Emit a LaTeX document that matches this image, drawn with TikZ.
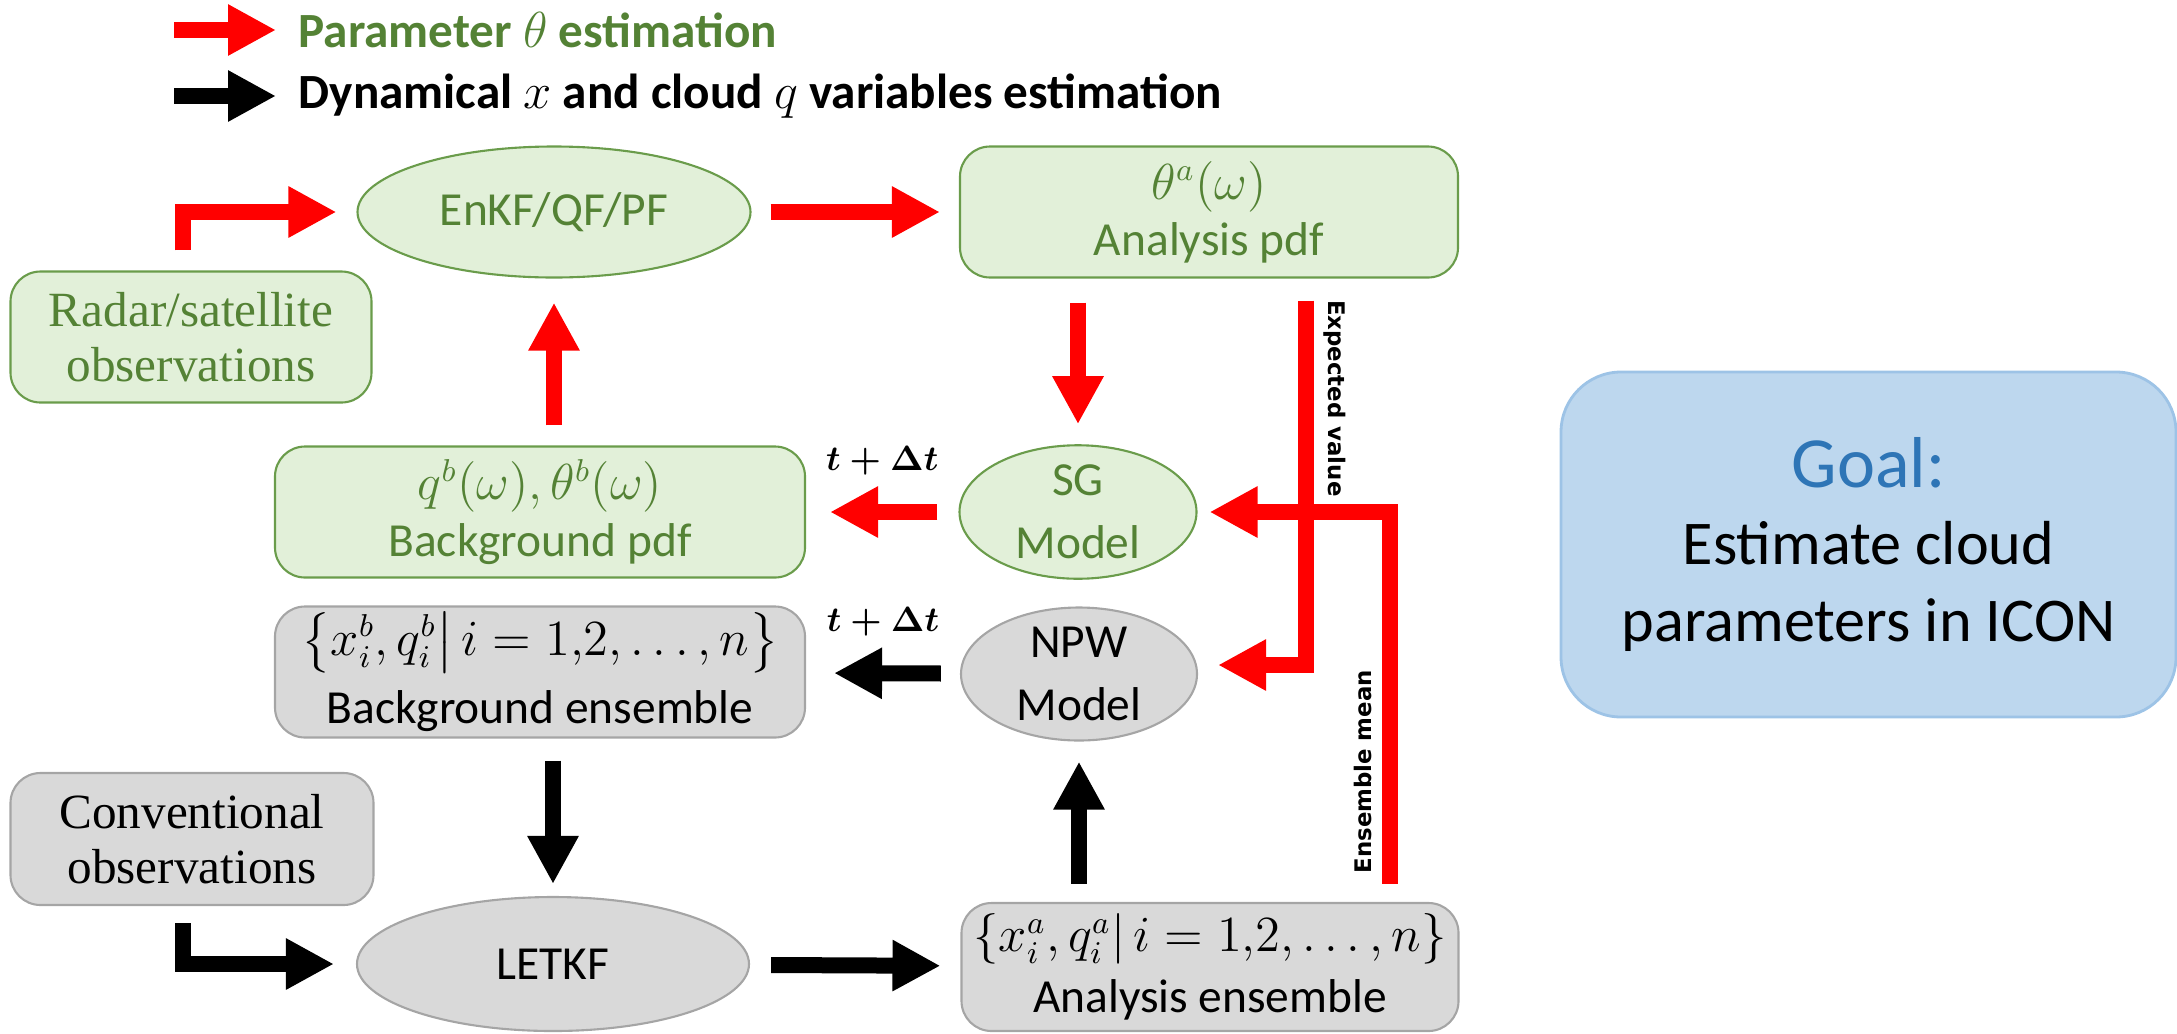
\documentclass[tikz,border=0pt]{standalone}
\usepackage{amsmath}
\usepackage{fontspec}
\setmainfont{Carlito}
\newfontfamily\obsfont{Liberation Serif}
\newfontfamily\tagfont{DejaVu Sans}
\usepackage{xcolor}
\usetikzlibrary{shapes.geometric, arrows.meta, positioning}
\definecolor{pdffill}{HTML}{E2F0D9}
\definecolor{pdfdraw}{HTML}{6A9C4B}
\definecolor{pdftext}{HTML}{548235}
\definecolor{ensfill}{HTML}{D9D9D9}
\definecolor{ensdraw}{HTML}{A5A5A5}
\definecolor{goalfill}{HTML}{BDD7EE}
\definecolor{goaldraw}{HTML}{9DC3E6}
\definecolor{goaltext}{HTML}{2E75B6}

\begin{document}
\begin{tikzpicture}[
    pdfbox/.style={rectangle, rounded corners=0.3cm, draw=pdfdraw, fill=pdffill, text=pdftext, line width=0.6pt, inner sep=0pt, align=center, font=\fontsize{13.5}{16}\selectfont},
    pdfell/.style={ellipse, draw=pdfdraw, fill=pdffill, text=pdftext, line width=0.6pt, inner sep=0pt, align=center, font=\fontsize{13.5}{18}\selectfont},
    ensbox/.style={rectangle, rounded corners=0.3cm, draw=ensdraw, fill=ensfill, text=black, line width=0.6pt, inner sep=0pt, align=center, font=\fontsize{13.5}{17.5}\selectfont},
    ensell/.style={ellipse, draw=ensdraw, fill=ensfill, text=black, line width=0.6pt, inner sep=0pt, align=center, font=\fontsize{13.5}{18}\selectfont},
    obstext/.style={font=\obsfont\fontsize{14}{15.6}\selectfont},
    redarr/.style={draw=red, line width=0.16cm, -{Triangle[length=0.48cm, width=0.48cm]}},
    blkarr/.style={draw=black, line width=0.16cm, -{Triangle[length=0.48cm, width=0.48cm]}},
    legtext/.style={font=\bfseries\fontsize{14}{16}\selectfont, inner sep=0pt},
    tstep/.style={font=\fontsize{10}{12}\selectfont\boldmath, text=black},
    tagtext/.style={font=\tagfont\bfseries\fontsize{6.5}{8}\selectfont, text=black, inner sep=0.1cm}
]
    \useasboundingbox (0,0) rectangle (21.77,-10.33);

    \coordinate (lred) at (1.74,-0.30);
    \node[legtext, text=pdftext, anchor=west] (legparam) at (2.98,-0.30) {Parameter $\theta$ estimation};
    \draw[redarr, shorten >=0.22cm] (lred) -- (legparam.west);
    \coordinate (lblk) at (1.74,-0.96);
    \node[legtext, anchor=west] (legdyn) at (2.98,-0.96) {Dynamical $x$ and cloud $q$ variables estimation};
    \draw[blkarr, shorten >=0.22cm] (lblk) -- (legdyn.west);

    \node[pdfell, minimum width=3.93cm, minimum height=1.31cm] (enkf) at (5.54,-2.12) {EnKF/QF/PF};
    \node[pdfbox, minimum width=4.98cm, minimum height=1.31cm] (apdf) at (12.09,-2.12) {$\theta^{a}(\omega)$\\Analysis pdf};
    \node[pdfbox, obstext, minimum width=3.61cm, minimum height=1.31cm] (radar) at (1.91,-3.37) {Radar/satellite\\observations};
    \node[pdfbox, minimum width=5.30cm, minimum height=1.31cm] (bgpdf) at (5.40,-5.12) {$q^{b}(\omega),\theta^{b}(\omega)$\\Background pdf};
    \node[pdfell, minimum width=2.37cm, minimum height=1.31cm] (sg) at (10.78,-5.12) {SG\\Model};
    \node[ensbox, minimum width=5.30cm, minimum height=1.31cm] (bgens) at (5.40,-6.72) {$\bigl\{x_i^b, q_i^b \big|\, i = 1{,}2, \ldots, n\bigr\}$\\[2pt]Background ensemble};
    \node[ensell, minimum width=2.36cm, minimum height=1.32cm] (npw) at (10.79,-6.74) {NPW\\Model};
    \node[ensbox, obstext, minimum width=3.63cm, minimum height=1.32cm] (conv) at (1.92,-8.39) {Conventional\\observations};
    \node[ensell, minimum width=3.92cm, minimum height=1.34cm] (letkf) at (5.53,-9.64) {LETKF};
    \node[ensbox, minimum width=4.97cm, minimum height=1.28cm] (aens) at (12.10,-9.67) {$\{x_i^a, q_i^a|\, i = 1{,}2, \ldots, n\}$\\Analysis ensemble};

    \node[rectangle, rounded corners=0.6cm, draw=goaldraw, fill=goalfill, line width=0.8pt, align=center, inner sep=0pt, minimum width=6.15cm, minimum height=3.45cm, font=\fontsize{17.7}{22}\selectfont] (goal) at (18.685,-5.445) {{\color{goaltext}\fontsize{20.5}{22}\selectfont Goal:}\\Estimate cloud\\parameters in ICON};

    \draw[redarr, shorten <=0.2cm, shorten >=0.2cm] ([xshift=-0.08cm]radar.north) |- (enkf.west);
    \draw[redarr, shorten <=0.19cm, shorten >=0.19cm] (enkf) -- (apdf);
    \draw[redarr, shorten <=0.2cm, shorten >=0.24cm] (bgpdf.north -| enkf) -- (enkf);
    \draw[redarr, shorten <=0.24cm, shorten >=0.2cm] (apdf.south -| sg) -- (sg);
    \draw[redarr, shorten <=0.21cm, shorten >=0.24cm] (sg) -- node[tstep, above=0.17cm] {$t+\Delta t$} (bgpdf);

    \draw[blkarr, shorten <=0.19cm, shorten >=0.28cm] (npw) -- node[tstep, above=0.17cm] {$t+\Delta t$} (bgens);
    \draw[blkarr, shorten <=0.22cm, shorten >=0.12cm] (bgens.south -| letkf) -- (letkf);
    \draw[blkarr, shorten <=0.17cm, shorten >=0.22cm] ([xshift=-0.09cm]conv.south) |- (letkf.west);
    \draw[blkarr, shorten <=0.21cm, shorten >=0.2cm] (letkf) -- (aens);
    \draw[blkarr, shorten <=0.18cm, shorten >=0.2cm] (aens.north -| npw) -- (npw);

    \draw[redarr, shorten <=0.22cm, shorten >=0.2cm] ([xshift=0.97cm]apdf.south) |- node[tagtext, pos=0.155, rotate=-90, anchor=south] {Expected value} ([yshift=0.09cm]npw.east);
    \draw[redarr, shorten <=0.18cm, shorten >=0.12cm] ([xshift=1.80cm]aens.north) |- node[tagtext, pos=0.167, rotate=90, anchor=south] {Ensemble mean} (sg.east);
\end{tikzpicture}
\end{document}
